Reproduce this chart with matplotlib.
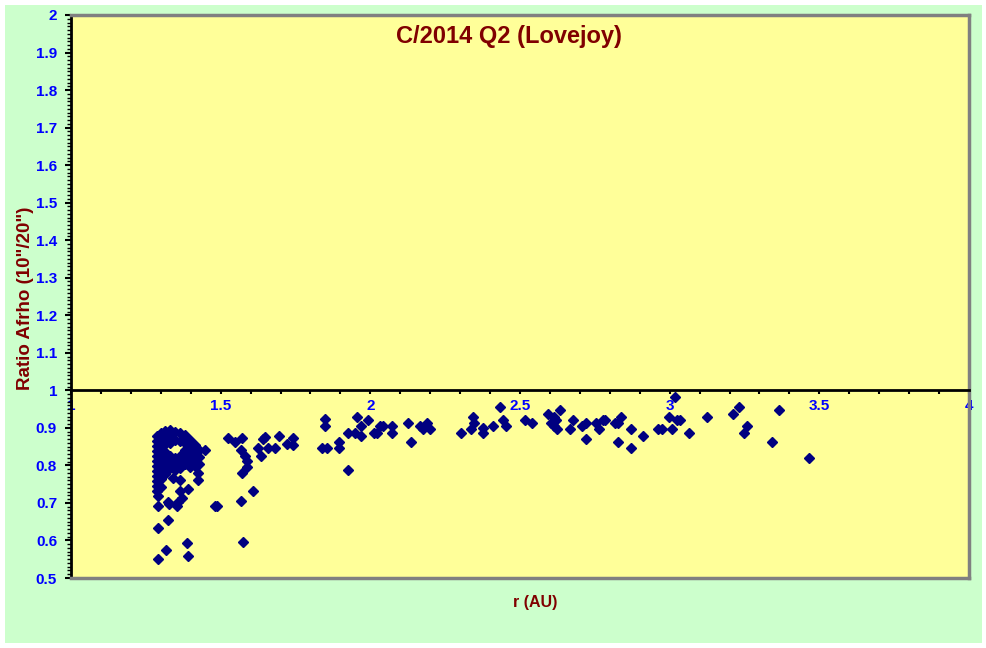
import matplotlib
matplotlib.use('Agg')
from matplotlib import pyplot as plt
from matplotlib.patches import Rectangle
from matplotlib.ticker import MultipleLocator, FuncFormatter

plt.rcParams['font.family'] = ['Liberation Sans', 'DejaVu Sans']

# Heliocentric distance r (AU) and Afrho ratio 10"/20"
# dense group near perihelion
r_peri = [1.287] * 12 + [1.301] * 8 + [1.314] * 7 + [1.331] * 6 + [1.347] * 5 \
    + [1.364] * 5 + [1.381] * 5 + [1.397] * 5 + [1.414] * 4 + [1.428] * 3
ratio_peri = [0.878, 0.865, 0.852, 0.838, 0.825, 0.812, 0.798, 0.785, 0.772, 0.758, 0.745, 0.732,
              0.886, 0.868, 0.846, 0.828, 0.806, 0.788, 0.764, 0.742,
              0.892, 0.873, 0.857, 0.836, 0.817, 0.798, 0.777,
              0.894, 0.876, 0.860, 0.825, 0.809, 0.793,
              0.889, 0.868, 0.820, 0.804, 0.788,
              0.886, 0.865, 0.825, 0.809, 0.793,
              0.881, 0.860, 0.841, 0.822, 0.804,
              0.868, 0.849, 0.830, 0.812, 0.796,
              0.854, 0.836, 0.817, 0.798,
              0.841, 0.822, 0.804]

# scattered low points around perihelion
r_low = [1.341, 1.364, 1.424, 1.424, 1.291, 1.364, 1.391, 1.371, 1.291, 1.327, 1.354,
         1.324, 1.291, 1.388, 1.317, 1.391, 1.291, 1.324, 1.357]
ratio_low = [0.766, 0.761, 0.780, 0.761, 0.718, 0.732, 0.737, 0.713, 0.692, 0.697, 0.692,
             0.654, 0.633, 0.593, 0.575, 0.559, 0.551, 0.702, 0.702]

# outbound leg
r_out = [1.448, 1.488, 1.481, 1.525, 1.548, 1.571, 1.568, 1.581, 1.588, 1.588, 1.571,
         1.625, 1.635, 1.648, 1.641, 1.658, 1.682, 1.695, 1.722, 1.742, 1.742,
         1.608, 1.568, 1.575,
         1.839, 1.855, 1.849, 1.849, 1.895, 1.895, 1.925, 1.956, 1.949, 1.969, 1.969,
         1.992, 2.012, 2.022, 2.032, 2.042, 2.072, 2.072, 2.126, 2.136, 2.166, 2.176,
         2.189, 2.199, 1.925,
         2.303, 2.336, 2.343, 2.346, 2.377, 2.377, 2.410, 2.433, 2.443, 2.453, 2.517,
         2.540, 2.594, 2.634, 2.614, 2.620, 2.604, 2.614, 2.624, 2.667, 2.677, 2.707,
         2.721, 2.721, 2.754, 2.764, 2.777, 2.784, 2.818, 2.828, 2.838, 2.828, 2.872,
         2.872, 2.912, 2.962, 2.975, 2.999, 3.009, 3.019, 3.026, 3.033, 3.063, 3.126,
         3.210, 3.230, 3.259, 3.249, 3.342, 3.366, 3.466]
ratio_out = [0.841, 0.692, 0.692, 0.873, 0.862, 0.873, 0.841, 0.825, 0.812, 0.796, 0.780,
             0.846, 0.825, 0.876, 0.870, 0.846, 0.846, 0.878, 0.857, 0.873, 0.854,
             0.732, 0.705, 0.596,
             0.846, 0.846, 0.924, 0.905, 0.862, 0.846, 0.886, 0.929, 0.886, 0.905, 0.878,
             0.921, 0.886, 0.886, 0.905, 0.905, 0.905, 0.886, 0.913, 0.862, 0.905, 0.897,
             0.913, 0.897, 0.788,
             0.886, 0.897, 0.929, 0.913, 0.900, 0.886, 0.905, 0.956, 0.921, 0.905, 0.921,
             0.913, 0.937, 0.948, 0.929, 0.921, 0.913, 0.905, 0.897, 0.897, 0.921, 0.905,
             0.913, 0.870, 0.913, 0.897, 0.921, 0.921, 0.913, 0.913, 0.929, 0.862, 0.897,
             0.846, 0.878, 0.897, 0.897, 0.929, 0.897, 0.982, 0.921, 0.921, 0.886, 0.929,
             0.937, 0.956, 0.905, 0.886, 0.862, 0.948, 0.820]

r_all = r_peri + r_low + r_out
ratio_all = ratio_peri + ratio_low + ratio_out

x_ticks = [1, 1.5, 2, 2.5, 3, 3.5, 4]

# Create figure
fig = plt.figure(figsize=(9.87, 6.48), dpi=100)
fig.patch.set_facecolor('white')
fig.patches.append(Rectangle((5 / 987, 5 / 648), 977 / 987, 638 / 648, transform=fig.transFigure,
                             facecolor='#CCFFCC', edgecolor='none', zorder=-10))
ax = fig.add_axes([71 / 987, 70 / 648, 898 / 987, 563 / 648])
ax.set_facecolor('#FFFF99')

ax.plot(r_all, ratio_all, linestyle='none', marker='D', markersize=5,
        color='#000080', markeredgecolor='#000080', zorder=5)

ax.set_xlim(1, 4)
ax.set_ylim(0.5, 2)

# Axis styling
ax.spines['bottom'].set_position(('data', 1))
ax.spines['bottom'].set_color('black')
ax.spines['bottom'].set_linewidth(2)
ax.spines['left'].set_color('black')
ax.spines['left'].set_linewidth(2)
for side in ['top', 'right']:
    ax.spines[side].set_color('#808080')
    ax.spines[side].set_linewidth(2.5)
ax.axhline(0.5, color='#808080', linewidth=2.5, clip_on=False, zorder=6)

ax.set_xticks(x_ticks)
ax.xaxis.set_minor_locator(MultipleLocator(0.1))
ax.yaxis.set_major_locator(MultipleLocator(0.1))
ax.yaxis.set_minor_locator(MultipleLocator(0.01))
fmt = FuncFormatter(lambda v, pos: '%g' % round(v, 2))
ax.xaxis.set_major_formatter(fmt)
ax.yaxis.set_major_formatter(fmt)
ax.tick_params(axis='x', which='both', direction='out', length=3, width=1.5, color='black',
               labelsize=11, labelcolor='#0000FF', pad=3)
ax.tick_params(axis='y', which='major', direction='out', length=4, width=1.5,
               labelsize=11, labelcolor='#0000FF', pad=6)
ax.tick_params(axis='y', which='minor', direction='out', length=3, width=1)
for lbl in ax.get_xticklabels() + ax.get_yticklabels():
    lbl.set_fontweight('bold')

ax.set_title('C/2014 Q2 (Lovejoy)', color='#800000', fontsize=17, fontweight='bold',
             x=0.488, y=0.935)
fig.text(535 / 987, 1 - 602 / 648, 'r (AU)', color='#800000', fontsize=11.5,
         fontweight='bold', ha='center', va='center')
fig.text(26 / 987, 1 - 298 / 648, 'Ratio Afrho (10"/20")', color='#800000', fontsize=13.5,
         fontweight='bold', ha='center', va='center', rotation=90)

plt.savefig('out.png', dpi=100, facecolor=fig.get_facecolor())
